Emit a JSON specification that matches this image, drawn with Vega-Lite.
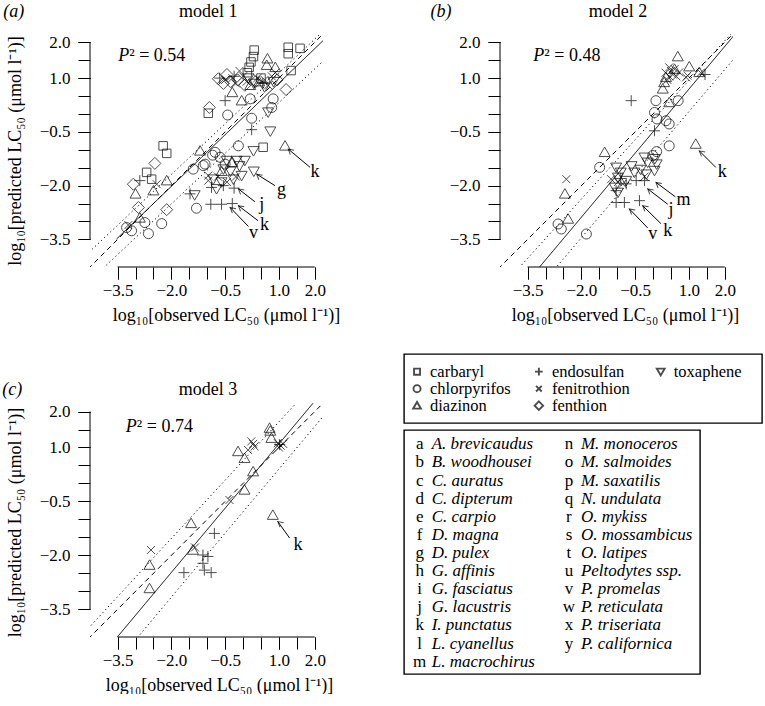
{
  "$schema": "https://vega.github.io/schema/vega-lite/v6.json",
  "background": "white",
  "padding": {"left": 2, "top": 3, "right": 0, "bottom": 0},
  "spacing": 29,
  "datasets": {
    "points_a": [
      {"obs": -2.23, "pred": -0.89, "pesticide": "carbaryl"},
      {"obs": -2.13, "pred": -1.10, "pesticide": "carbaryl"},
      {"obs": -2.69, "pred": -1.63, "pesticide": "carbaryl"},
      {"obs": -2.55, "pred": -1.82, "pesticide": "carbaryl"},
      {"obs": 0.31, "pred": 1.78, "pesticide": "carbaryl"},
      {"obs": 0.29, "pred": 1.60, "pesticide": "carbaryl"},
      {"obs": 0.22, "pred": 1.45, "pesticide": "carbaryl"},
      {"obs": 0.17, "pred": 1.30, "pesticide": "carbaryl"},
      {"obs": 0.12, "pred": 1.15, "pesticide": "carbaryl"},
      {"obs": 1.26, "pred": 1.86, "pesticide": "carbaryl"},
      {"obs": 1.26, "pred": 1.68, "pesticide": "carbaryl"},
      {"obs": 1.59, "pred": 1.83, "pesticide": "carbaryl"},
      {"obs": 1.34, "pred": 1.21, "pesticide": "carbaryl"},
      {"obs": -0.97, "pred": 0.02, "pesticide": "carbaryl"},
      {"obs": 0.56, "pred": -0.93, "pesticide": "carbaryl"},
      {"obs": 0.5, "pred": 1.0, "pesticide": "carbaryl"},
      {"obs": -3.25, "pred": -3.17, "pesticide": "chlorpyrifos"},
      {"obs": -3.11, "pred": -3.26, "pesticide": "chlorpyrifos"},
      {"obs": -2.74, "pred": -3.03, "pesticide": "chlorpyrifos"},
      {"obs": -2.64, "pred": -3.34, "pesticide": "chlorpyrifos"},
      {"obs": -2.27, "pred": -3.06, "pesticide": "chlorpyrifos"},
      {"obs": -1.06, "pred": -1.40, "pesticide": "chlorpyrifos"},
      {"obs": -1.39, "pred": -1.54, "pesticide": "chlorpyrifos"},
      {"obs": -0.78, "pred": -1.07, "pesticide": "chlorpyrifos"},
      {"obs": -0.64, "pred": -1.21, "pesticide": "chlorpyrifos"},
      {"obs": -1.11, "pred": -1.44, "pesticide": "chlorpyrifos"},
      {"obs": -1.30, "pred": -2.63, "pesticide": "chlorpyrifos"},
      {"obs": -0.13, "pred": -0.89, "pesticide": "chlorpyrifos"},
      {"obs": -0.85, "pred": -1.15, "pesticide": "chlorpyrifos"},
      {"obs": -0.5, "pred": -1.4, "pesticide": "chlorpyrifos"},
      {"obs": 0.2, "pred": 0.42, "pesticide": "chlorpyrifos"},
      {"obs": 0.84, "pred": 0.42, "pesticide": "chlorpyrifos"},
      {"obs": -0.43, "pred": -0.03, "pesticide": "chlorpyrifos"},
      {"obs": 0.24, "pred": -0.12, "pesticide": "chlorpyrifos"},
      {"obs": 0.8, "pred": 0.18, "pesticide": "chlorpyrifos"},
      {"obs": -3.0, "pred": -2.23, "pesticide": "diazinon"},
      {"obs": -2.5, "pred": -2.14, "pesticide": "diazinon"},
      {"obs": -2.13, "pred": -1.86, "pesticide": "diazinon"},
      {"obs": -2.88, "pred": -2.9, "pesticide": "diazinon"},
      {"obs": -1.2, "pred": -1.03, "pesticide": "diazinon"},
      {"obs": -0.6, "pred": -1.6, "pesticide": "diazinon"},
      {"obs": -0.3, "pred": -1.35, "pesticide": "diazinon"},
      {"obs": 1.17, "pred": -0.89, "pesticide": "diazinon"},
      {"obs": 0.68, "pred": 1.54, "pesticide": "diazinon"},
      {"obs": 0.66, "pred": 1.36, "pesticide": "diazinon"},
      {"obs": -0.04, "pred": 0.37, "pesticide": "diazinon"},
      {"obs": 0.2, "pred": 0.8, "pesticide": "diazinon"},
      {"obs": 0.45, "pred": 0.9, "pesticide": "diazinon"},
      {"obs": 0.9, "pred": 1.3, "pesticide": "diazinon"},
      {"obs": -0.3, "pred": 0.6, "pesticide": "diazinon"},
      {"obs": -2.88, "pred": -1.86, "pesticide": "endosulfan"},
      {"obs": -1.48, "pred": -2.23, "pesticide": "endosulfan"},
      {"obs": -0.9, "pred": -2.52, "pesticide": "endosulfan"},
      {"obs": -0.6, "pred": -2.52, "pesticide": "endosulfan"},
      {"obs": -0.3, "pred": -2.5, "pesticide": "endosulfan"},
      {"obs": -0.88, "pred": -2.05, "pesticide": "endosulfan"},
      {"obs": -0.55, "pred": -2.0, "pesticide": "endosulfan"},
      {"obs": -0.25, "pred": -2.07, "pesticide": "endosulfan"},
      {"obs": 0.24, "pred": -0.44, "pesticide": "endosulfan"},
      {"obs": -0.5, "pred": 0.37, "pesticide": "endosulfan"},
      {"obs": -0.25, "pred": 1.05, "pesticide": "endosulfan"},
      {"obs": 0.55, "pred": 0.85, "pesticide": "endosulfan"},
      {"obs": -0.65, "pred": 1.0, "pesticide": "endosulfan"},
      {"obs": -2.41, "pred": -1.96, "pesticide": "fenitrothion"},
      {"obs": -3.2, "pred": -3.1, "pesticide": "fenitrothion"},
      {"obs": -0.97, "pred": -1.86, "pesticide": "fenitrothion"},
      {"obs": -0.97, "pred": -1.72, "pesticide": "fenitrothion"},
      {"obs": -0.7, "pred": -1.75, "pesticide": "fenitrothion"},
      {"obs": -0.45, "pred": -1.9, "pesticide": "fenitrothion"},
      {"obs": -0.2, "pred": -1.75, "pesticide": "fenitrothion"},
      {"obs": -0.5, "pred": 0.95, "pesticide": "fenitrothion"},
      {"obs": -0.3, "pred": 1.0, "pesticide": "fenitrothion"},
      {"obs": -0.2, "pred": 0.85, "pesticide": "fenitrothion"},
      {"obs": 0.0, "pred": 1.05, "pesticide": "fenitrothion"},
      {"obs": 0.1, "pred": 0.9, "pesticide": "fenitrothion"},
      {"obs": 0.4, "pred": 1.0, "pesticide": "fenitrothion"},
      {"obs": 0.6, "pred": 0.95, "pesticide": "fenitrothion"},
      {"obs": 0.8, "pred": 1.05, "pesticide": "fenitrothion"},
      {"obs": 0.9, "pred": 1.15, "pesticide": "fenitrothion"},
      {"obs": -0.1, "pred": 1.2, "pesticide": "fenitrothion"},
      {"obs": 0.7, "pred": 0.8, "pesticide": "fenitrothion"},
      {"obs": -2.46, "pred": -1.38, "pesticide": "fenthion"},
      {"obs": -3.06, "pred": -1.96, "pesticide": "fenthion"},
      {"obs": -2.92, "pred": -2.61, "pesticide": "fenthion"},
      {"obs": -2.13, "pred": -2.67, "pesticide": "fenthion"},
      {"obs": -0.69, "pred": 0.98, "pesticide": "fenthion"},
      {"obs": -0.94, "pred": 0.18, "pesticide": "fenthion"},
      {"obs": 1.2, "pred": 0.68, "pesticide": "fenthion"},
      {"obs": -0.55, "pred": 0.85, "pesticide": "fenthion"},
      {"obs": -0.35, "pred": 0.9, "pesticide": "fenthion"},
      {"obs": -0.15, "pred": 0.95, "pesticide": "fenthion"},
      {"obs": 0.05, "pred": 0.8, "pesticide": "fenthion"},
      {"obs": 0.35, "pred": 0.9, "pesticide": "fenthion"},
      {"obs": 0.95, "pred": 0.95, "pesticide": "fenthion"},
      {"obs": -0.45, "pred": 1.1, "pesticide": "fenthion"},
      {"obs": -1.35, "pred": -2.26, "pesticide": "toxaphene"},
      {"obs": -0.46, "pred": -1.30, "pesticide": "toxaphene"},
      {"obs": -0.18, "pred": -1.30, "pesticide": "toxaphene"},
      {"obs": -0.04, "pred": -1.72, "pesticide": "toxaphene"},
      {"obs": -0.74, "pred": -2.09, "pesticide": "toxaphene"},
      {"obs": -0.27, "pred": -1.82, "pesticide": "toxaphene"},
      {"obs": -0.83, "pred": -1.82, "pesticide": "toxaphene"},
      {"obs": -0.55, "pred": -1.54, "pesticide": "toxaphene"},
      {"obs": 0.29, "pred": -1.03, "pesticide": "toxaphene"},
      {"obs": 0.3, "pred": -1.6, "pesticide": "toxaphene"},
      {"obs": 0.7, "pred": 0.05, "pesticide": "toxaphene"},
      {"obs": 0.76, "pred": -0.48, "pesticide": "toxaphene"},
      {"obs": -0.6, "pred": -1.9, "pesticide": "toxaphene"},
      {"obs": -0.35, "pred": -1.6, "pesticide": "toxaphene"},
      {"obs": -0.1, "pred": -1.45, "pesticide": "toxaphene"},
      {"obs": 0.05, "pred": -1.3, "pesticide": "toxaphene"},
      {"obs": 0.3, "pred": 0.85, "pesticide": "toxaphene"},
      {"obs": 0.6, "pred": 0.75, "pesticide": "toxaphene"},
      {"obs": 0.85, "pred": 0.9, "pesticide": "toxaphene"},
      {"obs": 0.15, "pred": 1.0, "pesticide": "toxaphene"}
    ],
    "points_b": [
      {"obs": -1.49, "pred": -1.49, "pesticide": "chlorpyrifos"},
      {"obs": -2.65, "pred": -3.07, "pesticide": "chlorpyrifos"},
      {"obs": -2.56, "pred": -3.21, "pesticide": "chlorpyrifos"},
      {"obs": -1.86, "pred": -3.35, "pesticide": "chlorpyrifos"},
      {"obs": 0.08, "pred": 0.37, "pesticide": "chlorpyrifos"},
      {"obs": 0.70, "pred": 0.37, "pesticide": "chlorpyrifos"},
      {"obs": 0.04, "pred": 0.04, "pesticide": "chlorpyrifos"},
      {"obs": 0.11, "pred": -0.14, "pesticide": "chlorpyrifos"},
      {"obs": 0.36, "pred": -0.19, "pesticide": "chlorpyrifos"},
      {"obs": 0.45, "pred": -0.28, "pesticide": "chlorpyrifos"},
      {"obs": 0.45, "pred": -0.89, "pesticide": "chlorpyrifos"},
      {"obs": -0.01, "pred": -1.16, "pesticide": "chlorpyrifos"},
      {"obs": 0.1, "pred": -1.05, "pesticide": "chlorpyrifos"},
      {"obs": -1.35, "pred": -1.07, "pesticide": "diazinon"},
      {"obs": -2.46, "pred": -2.23, "pesticide": "diazinon"},
      {"obs": -2.37, "pred": -2.93, "pesticide": "diazinon"},
      {"obs": 1.19, "pred": -0.84, "pesticide": "diazinon"},
      {"obs": 0.69, "pred": 1.60, "pesticide": "diazinon"},
      {"obs": 1.01, "pred": 1.32, "pesticide": "diazinon"},
      {"obs": 1.29, "pred": 1.16, "pesticide": "diazinon"},
      {"obs": 0.31, "pred": 0.88, "pesticide": "diazinon"},
      {"obs": 0.27, "pred": 0.70, "pesticide": "diazinon"},
      {"obs": 0.36, "pred": 1.02, "pesticide": "diazinon"},
      {"obs": 0.45, "pred": 0.32, "pesticide": "diazinon"},
      {"obs": 0.6, "pred": 1.25, "pesticide": "diazinon"},
      {"obs": -0.61, "pred": 0.37, "pesticide": "endosulfan"},
      {"obs": 0.04, "pred": -0.47, "pesticide": "endosulfan"},
      {"obs": -1.03, "pred": -2.14, "pesticide": "endosulfan"},
      {"obs": -0.47, "pred": -1.86, "pesticide": "endosulfan"},
      {"obs": -0.24, "pred": -1.86, "pesticide": "endosulfan"},
      {"obs": -1.03, "pred": -2.47, "pesticide": "endosulfan"},
      {"obs": -0.80, "pred": -2.47, "pesticide": "endosulfan"},
      {"obs": -0.38, "pred": -2.42, "pesticide": "endosulfan"},
      {"obs": -0.75, "pred": -1.95, "pesticide": "endosulfan"},
      {"obs": 1.45, "pred": 1.1, "pesticide": "endosulfan"},
      {"obs": -0.9, "pred": -1.8, "pesticide": "endosulfan"},
      {"obs": -2.42, "pred": -1.82, "pesticide": "fenitrothion"},
      {"obs": -1.17, "pred": -1.82, "pesticide": "fenitrothion"},
      {"obs": -0.98, "pred": -1.9, "pesticide": "fenitrothion"},
      {"obs": -0.24, "pred": -1.75, "pesticide": "fenitrothion"},
      {"obs": 1.33, "pred": 1.15, "pesticide": "fenitrothion"},
      {"obs": 0.92, "pred": 1.02, "pesticide": "fenitrothion"},
      {"obs": 0.73, "pred": 1.16, "pesticide": "fenitrothion"},
      {"obs": 0.45, "pred": 1.3, "pesticide": "fenitrothion"},
      {"obs": 0.5, "pred": 1.2, "pesticide": "fenitrothion"},
      {"obs": 0.55, "pred": 1.1, "pesticide": "fenitrothion"},
      {"obs": 0.45, "pred": 1.05, "pesticide": "fenitrothion"},
      {"obs": 0.4, "pred": 0.95, "pesticide": "fenitrothion"},
      {"obs": 0.6, "pred": 1.25, "pesticide": "fenitrothion"},
      {"obs": 0.35, "pred": 1.15, "pesticide": "fenitrothion"},
      {"obs": 0.65, "pred": 1.05, "pesticide": "fenitrothion"},
      {"obs": 0.96, "pred": 1.07, "pesticide": "fenitrothion"},
      {"obs": -0.85, "pred": -1.95, "pesticide": "fenitrothion"},
      {"obs": -1.03, "pred": -1.49, "pesticide": "toxaphene"},
      {"obs": -0.9, "pred": -1.63, "pesticide": "toxaphene"},
      {"obs": -0.98, "pred": -1.77, "pesticide": "toxaphene"},
      {"obs": -0.52, "pred": -1.63, "pesticide": "toxaphene"},
      {"obs": -0.24, "pred": -1.21, "pesticide": "toxaphene"},
      {"obs": -0.15, "pred": -1.35, "pesticide": "toxaphene"},
      {"obs": -0.19, "pred": -1.68, "pesticide": "toxaphene"},
      {"obs": 0.04, "pred": -1.58, "pesticide": "toxaphene"},
      {"obs": 0.05, "pred": -1.25, "pesticide": "toxaphene"},
      {"obs": 0.1, "pred": -1.4, "pesticide": "toxaphene"},
      {"obs": -0.75, "pred": -1.86, "pesticide": "toxaphene"},
      {"obs": -1.07, "pred": -2.05, "pesticide": "toxaphene"},
      {"obs": -0.98, "pred": -2.19, "pesticide": "toxaphene"},
      {"obs": -0.6, "pred": -1.45, "pesticide": "toxaphene"},
      {"obs": -0.35, "pred": -1.55, "pesticide": "toxaphene"}
    ],
    "points_c": [
      {"obs": 0.74, "pred": 1.54, "pesticide": "diazinon"},
      {"obs": 0.76, "pred": 1.46, "pesticide": "diazinon"},
      {"obs": 0.79, "pred": 1.26, "pesticide": "diazinon"},
      {"obs": -0.14, "pred": 0.89, "pesticide": "diazinon"},
      {"obs": 0.04, "pred": 0.70, "pesticide": "diazinon"},
      {"obs": 0.28, "pred": 0.33, "pesticide": "diazinon"},
      {"obs": 0.04, "pred": -0.18, "pesticide": "diazinon"},
      {"obs": 0.83, "pred": -0.88, "pesticide": "diazinon"},
      {"obs": -1.45, "pred": -1.11, "pesticide": "diazinon"},
      {"obs": -1.40, "pred": -1.85, "pesticide": "diazinon"},
      {"obs": -2.61, "pred": -2.27, "pesticide": "diazinon"},
      {"obs": -2.61, "pred": -2.92, "pesticide": "diazinon"},
      {"obs": 0.97, "pred": 1.12, "pesticide": "fenitrothion"},
      {"obs": 1.05, "pred": 1.05, "pesticide": "fenitrothion"},
      {"obs": 1.0, "pred": 1.0, "pesticide": "fenitrothion"},
      {"obs": 1.12, "pred": 1.1, "pesticide": "fenitrothion"},
      {"obs": 0.23, "pred": 1.17, "pesticide": "fenitrothion"},
      {"obs": 0.32, "pred": 1.03, "pesticide": "fenitrothion"},
      {"obs": 0.14, "pred": 0.93, "pesticide": "fenitrothion"},
      {"obs": 0.28, "pred": 1.1, "pesticide": "fenitrothion"},
      {"obs": -0.38, "pred": -0.46, "pesticide": "fenitrothion"},
      {"obs": -2.57, "pred": -1.85, "pesticide": "fenitrothion"},
      {"obs": -1.34, "pred": -1.78, "pesticide": "fenitrothion"},
      {"obs": -0.8, "pred": -1.39, "pesticide": "endosulfan"},
      {"obs": -1.12, "pred": -1.99, "pesticide": "endosulfan"},
      {"obs": -0.98, "pred": -2.03, "pesticide": "endosulfan"},
      {"obs": -1.12, "pred": -2.22, "pesticide": "endosulfan"},
      {"obs": -1.08, "pred": -2.41, "pesticide": "endosulfan"},
      {"obs": -0.89, "pred": -2.48, "pesticide": "endosulfan"},
      {"obs": -1.65, "pred": -2.48, "pesticide": "endosulfan"},
      {"obs": 1.02, "pred": 1.08, "pesticide": "endosulfan"}
    ],
    "lines_a": [
      {"kind": "fit", "line": "fit", "obs": -3.53, "pred": -3.49},
      {"kind": "fit", "line": "fit", "obs": 2.3, "pred": 2.11},
      {"kind": "identity", "line": "identity", "obs": -4.5, "pred": -4.5},
      {"kind": "identity", "line": "identity", "obs": 2.5, "pred": 2.5},
      {"kind": "band", "line": "upper", "obs": -4.3, "pred": -3.86},
      {"kind": "band", "line": "upper", "obs": 2.3, "pred": 2.37},
      {"kind": "band", "line": "lower", "obs": -3.9, "pred": -4.3},
      {"kind": "band", "line": "lower", "obs": 2.3, "pred": 1.54}
    ],
    "lines_b": [
      {"kind": "fit", "line": "fit", "obs": -3.3, "pred": -4.43},
      {"kind": "fit", "line": "fit", "obs": 2.3, "pred": 2.24},
      {"kind": "identity", "line": "identity", "obs": -4.5, "pred": -4.5},
      {"kind": "identity", "line": "identity", "obs": 2.5, "pred": 2.5},
      {"kind": "band", "line": "upper", "obs": -3.9, "pred": -4.47},
      {"kind": "band", "line": "upper", "obs": 2.3, "pred": 2.37},
      {"kind": "band", "line": "lower", "obs": -2.9, "pred": -4.51},
      {"kind": "band", "line": "lower", "obs": 2.3, "pred": 1.59}
    ],
    "lines_c": [
      {"kind": "fit", "line": "fit", "obs": -3.6, "pred": -4.38},
      {"kind": "fit", "line": "fit", "obs": 1.95, "pred": 2.23},
      {"kind": "identity", "line": "identity", "obs": -4.5, "pred": -4.5},
      {"kind": "identity", "line": "identity", "obs": 2.23, "pred": 2.23},
      {"kind": "band", "line": "upper", "obs": -4.4, "pred": -4.12},
      {"kind": "band", "line": "upper", "obs": 1.48, "pred": 2.23},
      {"kind": "band", "line": "lower", "obs": -2.95, "pred": -4.29},
      {"kind": "band", "line": "lower", "obs": 2.23, "pred": 1.86}
    ],
    "arrows_a": [
      {"label": "k", "label_obs": 2.01, "label_pred": -1.62, "tail_obs": 1.87, "tail_pred": -1.49, "tip_obs": 1.26, "tip_pred": -0.98},
      {"label": "g", "label_obs": 1.07, "label_pred": -2.12, "tail_obs": 0.89, "tail_pred": -2.0, "tip_obs": 0.38, "tip_pred": -1.68},
      {"label": "j", "label_obs": 0.52, "label_pred": -2.55, "tail_obs": 0.33, "tail_pred": -2.45, "tip_obs": -0.13, "tip_pred": -2.09},
      {"label": "k", "label_obs": 0.6, "label_pred": -3.1, "tail_obs": 0.42, "tail_pred": -2.98, "tip_obs": -0.13, "tip_pred": -2.56},
      {"label": "v", "label_obs": 0.29, "label_pred": -3.33, "tail_obs": 0.15, "tail_pred": -3.14, "tip_obs": -0.36, "tip_pred": -2.61}
    ],
    "arrows_b": [
      {"label": "k", "label_obs": 1.93, "label_pred": -1.63, "tail_obs": 1.75, "tail_pred": -1.49, "tip_obs": 1.29, "tip_pred": -1.03},
      {"label": "m", "label_obs": 0.85, "label_pred": -2.4, "tail_obs": 0.62, "tail_pred": -2.31, "tip_obs": 0.08, "tip_pred": -1.91},
      {"label": "j", "label_obs": 0.5, "label_pred": -2.68, "tail_obs": 0.41, "tail_pred": -2.52, "tip_obs": -0.15, "tip_pred": -2.09},
      {"label": "k", "label_obs": 0.41, "label_pred": -3.27, "tail_obs": 0.22, "tail_pred": -3.06, "tip_obs": -0.29, "tip_pred": -2.56},
      {"label": "v", "label_obs": -0.01, "label_pred": -3.36, "tail_obs": -0.15, "tail_pred": -3.18, "tip_obs": -0.66, "tip_pred": -2.65}
    ],
    "arrows_c": [
      {"label": "k", "label_obs": 1.53, "label_pred": -1.71, "tail_obs": 1.30, "tail_pred": -1.52, "tip_obs": 0.97, "tip_pred": -1.06}
    ],
    "pesticides": [
      {"pesticide": "carbaryl", "col": 0, "row": 1},
      {"pesticide": "chlorpyrifos", "col": 0, "row": 2},
      {"pesticide": "diazinon", "col": 0, "row": 3},
      {"pesticide": "endosulfan", "col": 1, "row": 1},
      {"pesticide": "fenitrothion", "col": 1, "row": 2},
      {"pesticide": "fenthion", "col": 1, "row": 3},
      {"pesticide": "toxaphene", "col": 2, "row": 1}
    ],
    "species": [
      {"letter": "a", "species": "A. brevicaudus", "col": 0, "row": 1},
      {"letter": "b", "species": "B. woodhousei", "col": 0, "row": 2},
      {"letter": "c", "species": "C. auratus", "col": 0, "row": 3},
      {"letter": "d", "species": "C. dipterum", "col": 0, "row": 4},
      {"letter": "e", "species": "C. carpio", "col": 0, "row": 5},
      {"letter": "f", "species": "D. magna", "col": 0, "row": 6},
      {"letter": "g", "species": "D. pulex", "col": 0, "row": 7},
      {"letter": "h", "species": "G. affinis", "col": 0, "row": 8},
      {"letter": "i", "species": "G. fasciatus", "col": 0, "row": 9},
      {"letter": "j", "species": "G. lacustris", "col": 0, "row": 10},
      {"letter": "k", "species": "I. punctatus", "col": 0, "row": 11},
      {"letter": "l", "species": "L. cyanellus", "col": 0, "row": 12},
      {"letter": "m", "species": "L. macrochirus", "col": 0, "row": 13},
      {"letter": "n", "species": "M. monoceros", "col": 1, "row": 1},
      {"letter": "o", "species": "M. salmoides", "col": 1, "row": 2},
      {"letter": "p", "species": "M. saxatilis", "col": 1, "row": 3},
      {"letter": "q", "species": "N. undulata", "col": 1, "row": 4},
      {"letter": "r", "species": "O. mykiss", "col": 1, "row": 5},
      {"letter": "s", "species": "O. mossambicus", "col": 1, "row": 6},
      {"letter": "t", "species": "O. latipes", "col": 1, "row": 7},
      {"letter": "u", "species": "Peltodytes ssp.", "col": 1, "row": 8},
      {"letter": "v", "species": "P. promelas", "col": 1, "row": 9},
      {"letter": "w", "species": "P. reticulata", "col": 1, "row": 10},
      {"letter": "x", "species": "P. triseriata", "col": 1, "row": 11},
      {"letter": "y", "species": "P. californica", "col": 1, "row": 12}
    ]
  },
  "vconcat": [
    {
      "spacing": 90,
      "hconcat": [
        {
          "width": 233, "height": 233,
          "resolve": {"axis": {"x": "independent", "y": "independent"}},
          "layer": [
            {
              "data": {"name": "lines_a"},
              "mark": {"type": "line", "clip": true, "color": "black", "strokeWidth": 1},
              "encoding": {
                "x": {"field": "obs", "type": "quantitative", "scale": {"domain": [-4.27, 2.23], "nice": false, "zero": false},
                      "axis": {"orient": "bottom", "title": "log₁₀[observed LC₅₀ (μmol l⁻¹)]", "values": [-3.5, -2, -0.5, 1, 2], "format": ".1f", "titleX": 136, "titlePadding": 8, "labelPadding": 3}},
                "y": {"field": "pred", "type": "quantitative", "scale": {"domain": [-4.27, 2.23], "nice": false, "zero": false},
                      "axis": {"orient": "left", "title": "log₁₀[predicted LC₅₀ (μmol l⁻¹)]", "values": [-3.5, -2, -0.5, 1, 2], "format": ".1f", "titlePadding": 15, "labelPadding": 8}},
                "strokeDash": {"field": "kind", "type": "nominal", "scale": {"domain": ["fit", "identity", "band"], "range": [[1, 0], [5, 4], [1.2, 3]]}, "legend": null},
                "detail": {"field": "line", "type": "nominal"}
              }
            },
            {
              "data": {"name": "points_a"},
              "mark": {"type": "point", "filled": false, "color": "black", "size": 100, "strokeWidth": 1},
              "encoding": {
                "x": {"field": "obs", "type": "quantitative", "axis": {"orient": "bottom", "title": null, "values": [-3.5, -3, -2.5, -2, -1.5, -1, -0.5, 0, 0.5, 1, 1.5, 2], "labels": false}},
                "y": {"field": "pred", "type": "quantitative", "axis": {"orient": "left", "title": null, "values": [-3.5, -3, -2.5, -2, -1.5, -1, -0.5, 0, 0.5, 1, 1.5, 2], "labels": false}},
                "shape": {"field": "pesticide", "type": "nominal", "legend": null, "scale": {"domain": ["carbaryl", "chlorpyrifos", "diazinon", "endosulfan", "fenitrothion", "fenthion", "toxaphene"], "range": ["M-0.85,-0.85L0.85,-0.85L0.85,0.85L-0.85,0.85Z", "circle", "M0,-1.05L1.1,0.85L-1.1,0.85Z", "M-1.1,0L1.1,0M0,-1.1L0,1.1", "M-0.8,-0.8L0.8,0.8M-0.8,0.8L0.8,-0.8", "M0,-1.2L1.2,0L0,1.2L-1.2,0Z", "M0,1.05L1.1,-0.85L-1.1,-0.85Z"]}}
              }
            },
            {"data": {"values": [{}]}, "mark": {"type": "rule", "color": "black", "strokeWidth": 1}, "encoding": {"x": {"datum": -3.5, "axis": null}, "x2": {"datum": 2}, "y": {"datum": -4.27, "axis": null}}},
            {"data": {"values": [{}]}, "mark": {"type": "rule", "color": "black", "strokeWidth": 1}, "encoding": {"x": {"datum": -4.27, "axis": null}, "y": {"datum": -3.5, "axis": null}, "y2": {"datum": 2}}},
            {"data": {"name": "arrows_a"}, "mark": {"type": "rule", "color": "black", "strokeWidth": 1}, "encoding": {"x": {"field": "tail_obs", "type": "quantitative", "axis": null}, "y": {"field": "tail_pred", "type": "quantitative", "axis": null}, "x2": {"field": "tip_obs"}, "y2": {"field": "tip_pred"}}},
            {"data": {"name": "arrows_a"}, "mark": {"type": "point", "shape": "M-1,-0.55L0,0L-1,0.55", "angle": 220, "size": 110, "filled": false, "color": "black", "strokeWidth": 1}, "encoding": {"x": {"field": "tip_obs", "type": "quantitative", "axis": null}, "y": {"field": "tip_pred", "type": "quantitative", "axis": null}}},
            {"data": {"name": "arrows_a"}, "mark": {"type": "text", "fontSize": 18, "align": "center", "baseline": "middle"}, "encoding": {"x": {"field": "label_obs", "type": "quantitative", "axis": null}, "y": {"field": "label_pred", "type": "quantitative", "axis": null}, "text": {"field": "label"}}},
            {"data": {"values": [{}]}, "mark": {"type": "text", "text": "model 1", "fontSize": 18, "align": "center", "baseline": "middle"}, "encoding": {"x": {"datum": -0.97, "axis": null}, "y": {"datum": 2.83, "axis": null}}},
            {"data": {"values": [{}]}, "mark": {"type": "text", "text": "(a)", "fontStyle": "italic", "fontSize": 18, "align": "left", "baseline": "middle"}, "encoding": {"x": {"datum": -6.69, "axis": null}, "y": {"datum": 2.83, "axis": null}}},
            {"data": {"values": [{}]}, "mark": {"type": "text", "text": "P", "fontStyle": "italic", "fontSize": 18, "align": "left", "baseline": "middle"}, "encoding": {"x": {"datum": -3.48, "axis": null}, "y": {"datum": 1.63, "axis": null}}},
            {"data": {"values": [{}]}, "mark": {"type": "text", "text": "² = 0.54", "fontSize": 18, "align": "left", "baseline": "middle", "dx": 11}, "encoding": {"x": {"datum": -3.48, "axis": null}, "y": {"datum": 1.63, "axis": null}}}
          ]
        },
        {
          "width": 233, "height": 233,
          "resolve": {"axis": {"x": "independent", "y": "independent"}},
          "layer": [
            {
              "data": {"name": "lines_b"},
              "mark": {"type": "line", "clip": true, "color": "black", "strokeWidth": 1},
              "encoding": {
                "x": {"field": "obs", "type": "quantitative", "scale": {"domain": [-4.27, 2.23], "nice": false, "zero": false},
                      "axis": {"orient": "bottom", "title": "log₁₀[observed LC₅₀ (μmol l⁻¹)]", "values": [-3.5, -2, -0.5, 1, 2], "format": ".1f", "titleX": 125, "titlePadding": 8, "labelPadding": 3}},
                "y": {"field": "pred", "type": "quantitative", "scale": {"domain": [-4.27, 2.23], "nice": false, "zero": false},
                      "axis": {"orient": "left", "title": null, "values": [-3.5, -2, -0.5, 1, 2], "format": ".1f", "labelPadding": 8}},
                "strokeDash": {"field": "kind", "type": "nominal", "scale": {"domain": ["fit", "identity", "band"], "range": [[1, 0], [5, 4], [1.2, 3]]}, "legend": null},
                "detail": {"field": "line", "type": "nominal"}
              }
            },
            {
              "data": {"name": "points_b"},
              "mark": {"type": "point", "filled": false, "color": "black", "size": 100, "strokeWidth": 1},
              "encoding": {
                "x": {"field": "obs", "type": "quantitative", "axis": {"orient": "bottom", "title": null, "values": [-3.5, -3, -2.5, -2, -1.5, -1, -0.5, 0, 0.5, 1, 1.5, 2], "labels": false}},
                "y": {"field": "pred", "type": "quantitative", "axis": {"orient": "left", "title": null, "values": [-3.5, -3, -2.5, -2, -1.5, -1, -0.5, 0, 0.5, 1, 1.5, 2], "labels": false}},
                "shape": {"field": "pesticide", "type": "nominal", "legend": null, "scale": {"domain": ["carbaryl", "chlorpyrifos", "diazinon", "endosulfan", "fenitrothion", "fenthion", "toxaphene"], "range": ["M-0.85,-0.85L0.85,-0.85L0.85,0.85L-0.85,0.85Z", "circle", "M0,-1.05L1.1,0.85L-1.1,0.85Z", "M-1.1,0L1.1,0M0,-1.1L0,1.1", "M-0.8,-0.8L0.8,0.8M-0.8,0.8L0.8,-0.8", "M0,-1.2L1.2,0L0,1.2L-1.2,0Z", "M0,1.05L1.1,-0.85L-1.1,-0.85Z"]}}
              }
            },
            {"data": {"values": [{}]}, "mark": {"type": "rule", "color": "black", "strokeWidth": 1}, "encoding": {"x": {"datum": -3.5, "axis": null}, "x2": {"datum": 2}, "y": {"datum": -4.27, "axis": null}}},
            {"data": {"values": [{}]}, "mark": {"type": "rule", "color": "black", "strokeWidth": 1}, "encoding": {"x": {"datum": -4.27, "axis": null}, "y": {"datum": -3.5, "axis": null}, "y2": {"datum": 2}}},
            {"data": {"name": "arrows_b"}, "mark": {"type": "rule", "color": "black", "strokeWidth": 1}, "encoding": {"x": {"field": "tail_obs", "type": "quantitative", "axis": null}, "y": {"field": "tail_pred", "type": "quantitative", "axis": null}, "x2": {"field": "tip_obs"}, "y2": {"field": "tip_pred"}}},
            {"data": {"name": "arrows_b"}, "mark": {"type": "point", "shape": "M-1,-0.55L0,0L-1,0.55", "angle": 220, "size": 110, "filled": false, "color": "black", "strokeWidth": 1}, "encoding": {"x": {"field": "tip_obs", "type": "quantitative", "axis": null}, "y": {"field": "tip_pred", "type": "quantitative", "axis": null}}},
            {"data": {"name": "arrows_b"}, "mark": {"type": "text", "fontSize": 18, "align": "center", "baseline": "middle"}, "encoding": {"x": {"field": "label_obs", "type": "quantitative", "axis": null}, "y": {"field": "label_pred", "type": "quantitative", "axis": null}, "text": {"field": "label"}}},
            {"data": {"values": [{}]}, "mark": {"type": "text", "text": "model 2", "fontSize": 18, "align": "center", "baseline": "middle"}, "encoding": {"x": {"datum": -0.98, "axis": null}, "y": {"datum": 2.83, "axis": null}}},
            {"data": {"values": [{}]}, "mark": {"type": "text", "text": "(b)", "fontStyle": "italic", "fontSize": 18, "align": "left", "baseline": "middle"}, "encoding": {"x": {"datum": -6.21, "axis": null}, "y": {"datum": 2.83, "axis": null}}},
            {"data": {"values": [{}]}, "mark": {"type": "text", "text": "P", "fontStyle": "italic", "fontSize": 18, "align": "left", "baseline": "middle"}, "encoding": {"x": {"datum": -3.34, "axis": null}, "y": {"datum": 1.63, "axis": null}}},
            {"data": {"values": [{}]}, "mark": {"type": "text", "text": "² = 0.48", "fontSize": 18, "align": "left", "baseline": "middle", "dx": 11}, "encoding": {"x": {"datum": -3.34, "axis": null}, "y": {"datum": 1.63, "axis": null}}}
          ]
        }
      ]
    },
    {
      "spacing": 70,
      "hconcat": [
        {
          "width": 233, "height": 283,
          "resolve": {"axis": {"x": "independent", "y": "independent"}},
          "layer": [
            {
              "data": {"name": "lines_c"},
              "mark": {"type": "line", "clip": true, "color": "black", "strokeWidth": 1},
              "encoding": {
                "x": {"field": "obs", "type": "quantitative", "scale": {"domain": [-4.27, 2.23], "nice": false, "zero": false},
                      "axis": {"orient": "bottom", "title": "log₁₀[observed LC₅₀ (μmol l⁻¹)]", "values": [-3.5, -2, -0.5, 1, 2], "format": ".1f", "titleX": 129, "titlePadding": 8, "labelPadding": 3}},
                "y": {"field": "pred", "type": "quantitative", "scale": {"domain": [-4.27, 3.6], "nice": false, "zero": false},
                      "axis": {"orient": "left", "title": "log₁₀[predicted LC₅₀ (μmol l⁻¹)]", "values": [-3.5, -2, -0.5, 1, 2], "format": ".1f", "titlePadding": 15, "labelPadding": 8, "titleY": 168}},
                "strokeDash": {"field": "kind", "type": "nominal", "scale": {"domain": ["fit", "identity", "band"], "range": [[1, 0], [5, 4], [1.2, 3]]}, "legend": null},
                "detail": {"field": "line", "type": "nominal"}
              }
            },
            {
              "data": {"name": "points_c"},
              "mark": {"type": "point", "filled": false, "color": "black", "size": 100, "strokeWidth": 1},
              "encoding": {
                "x": {"field": "obs", "type": "quantitative", "axis": {"orient": "bottom", "title": null, "values": [-3.5, -3, -2.5, -2, -1.5, -1, -0.5, 0, 0.5, 1, 1.5, 2], "labels": false}},
                "y": {"field": "pred", "type": "quantitative", "axis": {"orient": "left", "title": null, "values": [-3.5, -3, -2.5, -2, -1.5, -1, -0.5, 0, 0.5, 1, 1.5, 2], "labels": false}},
                "shape": {"field": "pesticide", "type": "nominal", "legend": null, "scale": {"domain": ["carbaryl", "chlorpyrifos", "diazinon", "endosulfan", "fenitrothion", "fenthion", "toxaphene"], "range": ["M-0.85,-0.85L0.85,-0.85L0.85,0.85L-0.85,0.85Z", "circle", "M0,-1.05L1.1,0.85L-1.1,0.85Z", "M-1.1,0L1.1,0M0,-1.1L0,1.1", "M-0.8,-0.8L0.8,0.8M-0.8,0.8L0.8,-0.8", "M0,-1.2L1.2,0L0,1.2L-1.2,0Z", "M0,1.05L1.1,-0.85L-1.1,-0.85Z"]}}
              }
            },
            {"data": {"values": [{}]}, "mark": {"type": "rule", "color": "black", "strokeWidth": 1}, "encoding": {"x": {"datum": -3.5, "axis": null}, "x2": {"datum": 2}, "y": {"datum": -4.27, "axis": null}}},
            {"data": {"values": [{}]}, "mark": {"type": "rule", "color": "black", "strokeWidth": 1}, "encoding": {"x": {"datum": -4.27, "axis": null}, "y": {"datum": -3.5, "axis": null}, "y2": {"datum": 2}}},
            {"data": {"name": "arrows_c"}, "mark": {"type": "rule", "color": "black", "strokeWidth": 1}, "encoding": {"x": {"field": "tail_obs", "type": "quantitative", "axis": null}, "y": {"field": "tail_pred", "type": "quantitative", "axis": null}, "x2": {"field": "tip_obs"}, "y2": {"field": "tip_pred"}}},
            {"data": {"name": "arrows_c"}, "mark": {"type": "point", "shape": "M-1,-0.55L0,0L-1,0.55", "angle": 220, "size": 110, "filled": false, "color": "black", "strokeWidth": 1}, "encoding": {"x": {"field": "tip_obs", "type": "quantitative", "axis": null}, "y": {"field": "tip_pred", "type": "quantitative", "axis": null}}},
            {"data": {"name": "arrows_c"}, "mark": {"type": "text", "fontSize": 18, "align": "center", "baseline": "middle"}, "encoding": {"x": {"field": "label_obs", "type": "quantitative", "axis": null}, "y": {"field": "label_pred", "type": "quantitative", "axis": null}, "text": {"field": "label"}}},
            {"data": {"values": [{}]}, "mark": {"type": "text", "text": "model 3", "fontSize": 18, "align": "center", "baseline": "middle"}, "encoding": {"x": {"datum": -0.98, "axis": null}, "y": {"datum": 2.6, "axis": null}}},
            {"data": {"values": [{}]}, "mark": {"type": "text", "text": "(c)", "fontStyle": "italic", "fontSize": 18, "align": "left", "baseline": "middle"}, "encoding": {"x": {"datum": -6.72, "axis": null}, "y": {"datum": 2.6, "axis": null}}},
            {"data": {"values": [{}]}, "mark": {"type": "text", "text": "P", "fontStyle": "italic", "fontSize": 18, "align": "left", "baseline": "middle"}, "encoding": {"x": {"datum": -3.27, "axis": null}, "y": {"datum": 1.58, "axis": null}}},
            {"data": {"values": [{}]}, "mark": {"type": "text", "text": "² = 0.74", "fontSize": 18, "align": "left", "baseline": "middle", "dx": 11}, "encoding": {"x": {"datum": -3.27, "axis": null}, "y": {"datum": 1.58, "axis": null}}}
          ]
        },
        {
          "spacing": 5,
          "vconcat": [
            {
              "width": 358, "height": 69,
              "view": {"stroke": "black", "strokeWidth": 1.4},
              "data": {"name": "pesticides"},
              "encoding": {
                "x": {"field": "col", "type": "quantitative", "scale": {"domain": [-0.107, 2.831], "nice": false, "zero": false}, "axis": null},
                "y": {"field": "row", "type": "quantitative", "scale": {"domain": [-0.04, 4.02], "nice": false, "zero": false, "reverse": true}, "axis": null}
              },
              "layer": [
                {
                  "mark": {"type": "point", "filled": false, "color": "black", "size": 50, "strokeWidth": 1.9},
                  "encoding": {"shape": {"field": "pesticide", "type": "nominal", "legend": null, "scale": {"domain": ["carbaryl", "chlorpyrifos", "diazinon", "endosulfan", "fenitrothion", "fenthion", "toxaphene"], "range": ["M-0.85,-0.85L0.85,-0.85L0.85,0.85L-0.85,0.85Z", "circle", "M0,-1.05L1.1,0.85L-1.1,0.85Z", "M-1.1,0L1.1,0M0,-1.1L0,1.1", "M-0.8,-0.8L0.8,0.8M-0.8,0.8L0.8,-0.8", "M0,-1.2L1.2,0L0,1.2L-1.2,0Z", "M0,1.05L1.1,-0.85L-1.1,-0.85Z"]}}}
                },
                {
                  "mark": {"type": "text", "align": "left", "baseline": "middle", "dx": 13, "fontSize": 16.5},
                  "encoding": {"text": {"field": "pesticide"}}
                }
              ]
            },
            {
              "width": 296, "height": 244,
              "view": {"stroke": "black", "strokeWidth": 1.4},
              "data": {"name": "species"},
              "encoding": {
                "x": {"field": "col", "type": "quantitative", "scale": {"domain": [-0.105, 1.878], "nice": false, "zero": false}, "axis": null},
                "y": {"field": "row", "type": "quantitative", "scale": {"domain": [0.21, 13.68], "nice": false, "zero": false, "reverse": true}, "axis": null}
              },
              "layer": [
                {"mark": {"type": "text", "align": "center", "baseline": "middle", "fontSize": 17}, "encoding": {"text": {"field": "letter"}}},
                {"mark": {"type": "text", "align": "left", "baseline": "middle", "dx": 12, "fontSize": 17, "fontStyle": "italic"}, "encoding": {"text": {"field": "species"}}}
              ]
            }
          ]
        }
      ]
    }
  ],
  "config": {
    "view": {"stroke": null},
    "font": "Liberation Serif",
    "text": {"font": "Liberation Serif", "color": "black"},
    "axis": {
      "labelFont": "Liberation Serif", "labelFontSize": 17, "labelColor": "black",
      "titleFont": "Liberation Serif", "titleFontSize": 18, "titleFontWeight": "normal", "titleColor": "black",
      "tickColor": "black", "tickSize": 12, "tickWidth": 1, "domain": false, "grid": false,
      "labelPadding": 7, "labelOverlap": false, "labelFlush": false, "labelBound": false
    }
  }
}
